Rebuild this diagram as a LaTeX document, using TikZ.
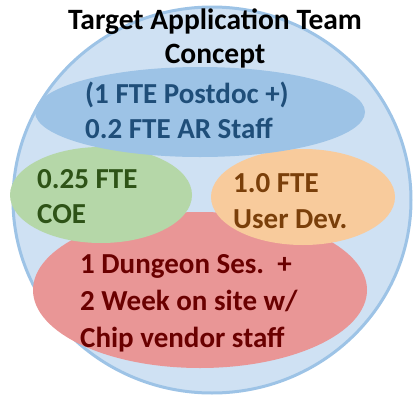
\documentclass[tikz,border=0pt]{standalone}
\usepackage{fontspec}
\setmainfont{Carlito}
\definecolor{outerfill}{HTML}{CFE1F3}
\definecolor{outerline}{HTML}{9DC3E6}
\definecolor{bluefill}{HTML}{9DC3E6}
\definecolor{greenfill}{HTML}{B5D7A8}
\definecolor{orangefill}{HTML}{F8CB9C}
\definecolor{redfill}{HTML}{E99696}
\definecolor{bluetext}{HTML}{1F4E79}
\definecolor{greentext}{HTML}{2E5317}
\definecolor{orangetext}{HTML}{7A3F0A}
\definecolor{redtext}{HTML}{6A0000}
\begin{document}
\begin{tikzpicture}[x=1pt,y=-1pt,
  txt/.style={anchor=base west,inner sep=0pt,font=\fontsize{29}{34}\selectfont\bfseries},
  title/.style={anchor=base,inner sep=0pt,font=\fontsize{29.5}{34}\selectfont\bfseries,text=black}]
\useasboundingbox (0,0) rectangle (413,397);
\draw[line width=3pt,draw=outerline,fill=outerfill] (212,200) ellipse [x radius=199,y radius=193];
\fill[redfill] (200,290) ellipse [x radius=167,y radius=78];
\fill[greenfill] (101,195) ellipse [x radius=91,y radius=48];
\fill[orangefill] (303,197) ellipse [x radius=92,y radius=48];
\fill[bluefill] (200,112) ellipse [x radius=165,y radius=45];
\node[title] (t1) at (215,29) {Target Application Team};
\node[title] (t2) at (215,63) {Concept};
\node[txt,text=bluetext] (b1) at (85,103) {(1 FTE Postdoc +)};
\node[txt,text=bluetext] (b2) at (85,138) {0.2 FTE AR Staff};
\node[txt,text=greentext] (g1) at (37,188) {0.25 FTE};
\node[txt,text=greentext] (g2) at (37,223) {COE};
\node[txt,text=orangetext] (o1) at (233,192) {1.0 FTE};
\node[txt,text=orangetext] (o2) at (233,228) {User Dev.};
\node[txt,text=redtext] (r1) at (80,273) {1 Dungeon Ses.\ \ +};
\node[txt,text=redtext] (r2) at (80,310) {2 Week on site w/};
\node[txt,text=redtext] (r3) at (80,347) {Chip vendor staff};
\end{tikzpicture}
\end{document}
